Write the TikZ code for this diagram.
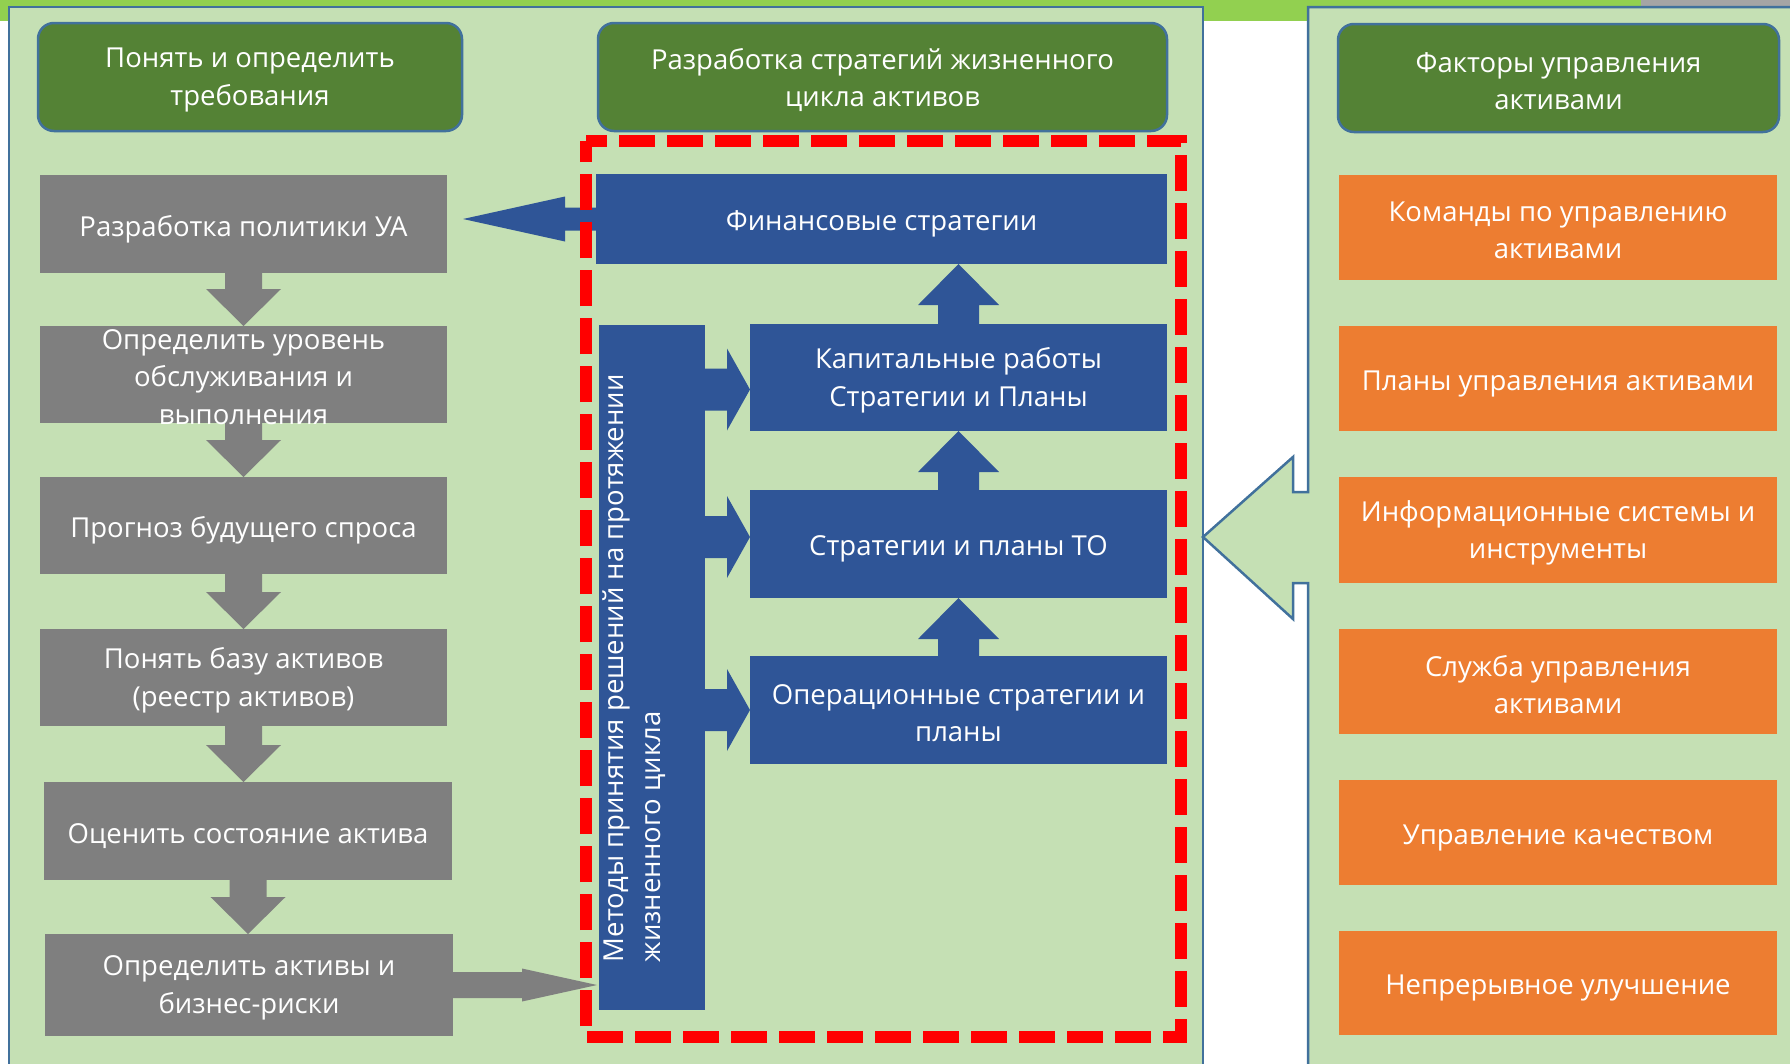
\documentclass[tikz,border=0pt]{standalone}
\usepackage{fontspec}
\setmainfont{Open Sans}
\usetikzlibrary{calc}
\definecolor{panelg}{HTML}{C5E0B4}
\definecolor{barg}{HTML}{92D050}
\definecolor{barx}{HTML}{A5A5A5}
\definecolor{edgeb}{HTML}{41719C}
\definecolor{headg}{HTML}{548235}
\definecolor{boxg}{HTML}{7F7F7F}
\definecolor{boxb}{HTML}{2F5597}
\definecolor{boxo}{HTML}{ED7D31}
\definecolor{dashr}{HTML}{FF0000}
\pgfdeclarelayer{panels}
\pgfdeclarelayer{arrows}
\pgfsetlayers{panels,arrows,main}
% block arrow: #1 start, #2 tip, #3 shaft half width, #4 head half width, #5 head length, #6 colour
\newcommand\blkarrow[6]{%
  \coordinate (ba-s) at (#1);
  \coordinate (ba-t) at (#2);
  \coordinate (ba-h) at ($(ba-t)!#5!(ba-s)$);
  \fill[#6] ($(ba-s)!#3!90:(ba-t)$) -- ($(ba-h)!#3!-90:(ba-s)$) -- ($(ba-h)!#4!-90:(ba-s)$) -- (ba-t)
    -- ($(ba-h)!#4!90:(ba-s)$) -- ($(ba-h)!#3!90:(ba-s)$) -- ($(ba-s)!#3!-90:(ba-t)$) -- cycle;}
% box with text: #1 style, #2 name, #3 centre, #4 width, #5 height, #6 text shift, #7 text
\newcommand\tbox[7]{%
  \node[#1, minimum width=#4, minimum height=#5] (#2) at (#3) {};
  \node (#2-t) at ($(#2.center)+(0,#6)$) {#7};}
\begin{document}
\begin{tikzpicture}[x=1pt,y=-1pt,
  every node/.style={inner sep=0pt, outer sep=0pt, text=white, align=center,
    font=\fontsize{27.5}{37.5}\selectfont},
  sz/.style 2 args={minimum width=#1, minimum height=#2},
  panelbox/.style={fill=panelg, draw=edgeb, line width=2.5pt},
  headbox/.style={fill=headg, draw=edgeb, line width=2.5pt, rounded corners=16pt},
  graybox/.style={fill=boxg},
  bluebox/.style={fill=boxb},
  orangebox/.style={fill=boxo},
]
\useasboundingbox (0,0) rectangle (1790,1063);
\begin{pgfonlayer}{panels}
\fill[barg] (0,0) rectangle (1641,21);
\fill[barx] (1641,0) rectangle (1790,8);
\node[panelbox, sz={1194pt}{1120pt}, anchor=north west] (lp) at (9,7) {};
\draw[edgeb, line width=2.5pt, fill=panelg] (1308,1120) -- (1308,583) -- (1293,583) -- (1293,619)
  -- (lp.east |- 0,537) -- (1293,457) -- (1293,492) -- (1308,492) -- (1308,7) -- (1850,7)
  -- (1850,1120) -- cycle;
\end{pgfonlayer}

% headers
\tbox{headbox}{h1}{250,77}{424pt}{108pt}{3}{Понять и определить\\требования}
\tbox{headbox}{h2}{882.5,77}{569pt}{108pt}{3}{Разработка стратегий жизненного\\цикла активов}
\tbox{headbox}{h3}{1558.5,78}{441pt}{108pt}{3}{Факторы управления\\активами}

% gray column
\tbox{graybox}{g1}{243.5,224}{407pt}{98pt}{5}{Разработка политики УА}
\tbox{graybox}{g2}{243.5,374.5}{407pt}{97pt}{2.5}{Определить уровень\\обслуживания и\\выполнения}
\tbox{graybox}{g3}{243.5,525.5}{407pt}{97pt}{5}{Прогноз будущего спроса}
\tbox{graybox}{g4}{243.5,677.5}{407pt}{97pt}{3}{Понять базу активов\\(реестр активов)}
\tbox{graybox}{g5}{248,831}{408pt}{98pt}{5}{Оценить состояние актива}
\tbox{graybox}{g6}{249,985}{408pt}{102pt}{3}{Определить активы и\\бизнес-риски}

% blue strategies
\tbox{bluebox}{F}{881.5,219}{571pt}{90pt}{5}{Финансовые стратегии}
\tbox{bluebox}{K}{958.5,377.5}{417pt}{107pt}{3}{Капитальные работы\\Стратегии и Планы}
\tbox{bluebox}{T}{958.5,544}{417pt}{108pt}{5}{Стратегии и планы ТО}
\tbox{bluebox}{O}{958.5,710}{417pt}{108pt}{3}{Операционные стратегии и\\планы}
\node[bluebox, sz={106pt}{685pt}] (V) at (652,667.5) {};
\node[rotate=90, anchor=west, align=left] (vt) at (634,962) {Методы принятия решений на протяжении\\жизненного цикла};

% orange factors
\tbox{orangebox}{o1}{1558,227.5}{438pt}{105pt}{3}{Команды по управлению\\активами}
\tbox{orangebox}{o2}{1558,378.5}{438pt}{105pt}{5}{Планы управления активами}
\tbox{orangebox}{o3}{1558,530}{438pt}{106pt}{3}{Информационные системы и\\инструменты}
\tbox{orangebox}{o4}{1558,681.5}{438pt}{105pt}{3}{Служба управления\\активами}
\tbox{orangebox}{o5}{1558,832.5}{438pt}{105pt}{5}{Управление качеством}
\tbox{orangebox}{o6}{1558,983}{438pt}{104pt}{5}{Непрерывное улучшение}

\begin{pgfonlayer}{arrows}
% gray down arrows
\blkarrow{g1.south}{g1.south |- g2.north}{18.5pt}{37.5pt}{37pt}{boxg}
\blkarrow{g2.south}{g2.south |- g3.north}{18.5pt}{37.5pt}{37pt}{boxg}
\blkarrow{g3.south}{g3.south |- g4.north}{18.5pt}{37.5pt}{37pt}{boxg}
\blkarrow{g4.south}{g4.south |- g5.north}{18.5pt}{37.5pt}{37pt}{boxg}
\blkarrow{g5.south}{g5.south |- g6.north}{18.5pt}{37.5pt}{37pt}{boxg}
% blue up arrows
\blkarrow{K.north}{K.north |- F.south}{20.5pt}{40.5pt}{41pt}{boxb}
\blkarrow{T.north}{T.north |- K.south}{20.5pt}{40.5pt}{41pt}{boxb}
\blkarrow{O.north}{O.north |- T.south}{20.5pt}{40.5pt}{41pt}{boxb}
% blue right arrows from the methods bar
\coordinate (kt) at ($(K.west)+(0,12)$);
\blkarrow{V.east |- kt}{kt}{21pt}{41pt}{23pt}{boxb}
\coordinate (tt) at ($(T.west)+(0,-7)$);
\blkarrow{V.east |- tt}{tt}{21pt}{41pt}{23pt}{boxb}
\blkarrow{V.east |- O.west}{O.west}{21pt}{41pt}{23pt}{boxb}
% blue arrow to policy
\coordinate (ft) at (g1.east |- F.west);
\coordinate (ft2) at ($(ft)+(16,0)$);
\blkarrow{F.west}{ft2}{11.5pt}{22.5pt}{102pt}{boxb}
% gray arrow to methods bar
\coordinate (gt) at (V.west |- g6.east);
\coordinate (gt2) at ($(gt)+(-2,0)$);
\blkarrow{g6.east}{gt2}{13pt}{16.5pt}{75pt}{boxg}
\end{pgfonlayer}

% red dashed frame
\node[sz={595pt}{896pt}] (frame) at (883.5,589) {};
\draw[dashr, line width=12pt, dash pattern=on 36pt off 12pt, dash phase=15pt]
  (frame.north west) -- (frame.north east) -- (frame.south east) -- (frame.south west) -- cycle;
\end{tikzpicture}
\end{document}
